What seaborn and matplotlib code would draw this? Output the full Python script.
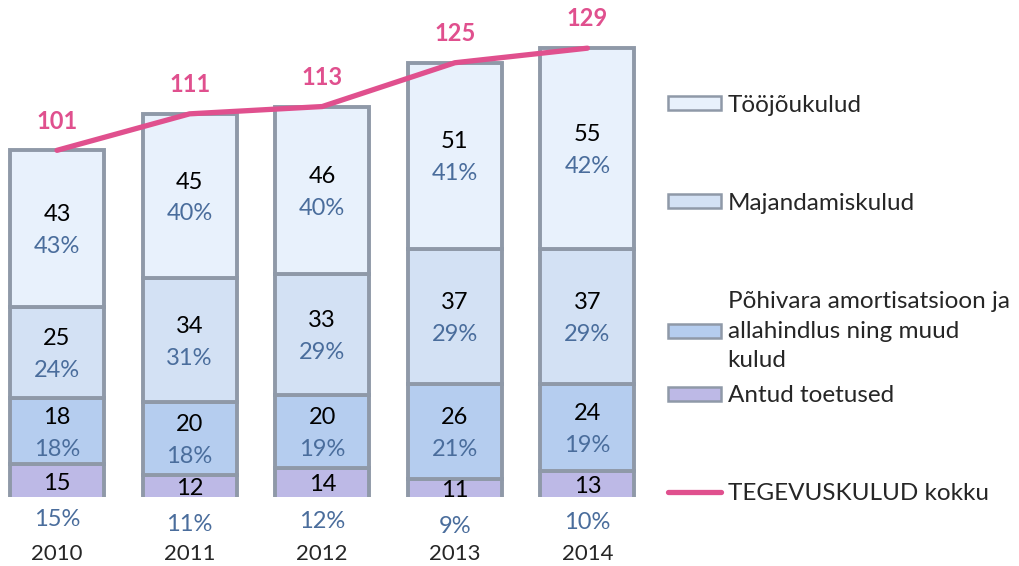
import numpy as np
import pandas as pd
import matplotlib.pyplot as plt
import seaborn as sns
from matplotlib.patches import Patch
from matplotlib.lines import Line2D

sns.set_style("white")
plt.rcParams['font.family'] = ['Lato', 'DejaVu Sans']

# %% andmed
aastad = ["2010", "2011", "2012", "2013", "2014"]
antud_toetused = [15, 12, 14, 11, 13]
pohivara = [18, 20, 20, 26, 24]
majandamiskulud = [25, 34, 33, 37, 37]
toojoukulud = [43, 45, 46, 51, 55]
kokku = [101, 111, 113, 125, 129]

pct_toetused = ["15%", "11%", "12%", "9%", "10%"]
pct_pohivara = ["18%", "18%", "19%", "21%", "19%"]
pct_majandamis = ["24%", "31%", "29%", "29%", "29%"]
pct_toojou = ["43%", "40%", "40%", "41%", "42%"]

nimed = ["Antud toetused",
         "Põhivara amortisatsioon ja\nallahindlus ning muud\nkulud",
         "Majandamiskulud", "Tööjõukulud"]
varvid = ["#bdb9e6", "#b5cdef", "#d3e1f4", "#e8f1fc"]
joone_varv = "#e0508e"
pct_varv = "#4a6d9c"
serv = "#8f99a8"

seeriad = [antud_toetused, pohivara, majandamiskulud, toojoukulud]
protsendid = [pct_toetused, pct_pohivara, pct_majandamis, pct_toojou]

# %% joonis
fig = plt.figure(figsize=(10.19, 5.66), dpi=100)
ax = fig.add_axes([0.0, 0.122, 0.635, 0.878])

pohi = np.zeros(len(aastad))
for n, (vals, pcts, nimi, varv) in enumerate(zip(seeriad, protsendid, nimed, varvid)):
    df = pd.DataFrame({"aasta": aastad, "vaartus": vals})
    sns.barplot(data=df, x="aasta", y="vaartus", bottom=pohi, color=varv,
                saturation=1, width=0.71, edgecolor=serv, linewidth=2.8,
                ax=ax)
    # alumise seeria sildid on nihutatud allapoole
    dy_nr, dy_pct = (6, -20) if n == 0 else (10, -13)
    for i, (v, p) in enumerate(zip(vals, pcts)):
        kesk = pohi[i] + v / 2
        ax.annotate(str(v), (i, kesk), xytext=(0, dy_nr), textcoords="offset points",
                    ha="center", va="center", fontsize=17, color="black",
                    annotation_clip=False)
        ax.annotate(p, (i, kesk), xytext=(0, dy_pct), textcoords="offset points",
                    ha="center", va="center", fontsize=17, color=pct_varv,
                    annotation_clip=False)
    pohi = pohi + np.array(vals)

sns.lineplot(x=np.arange(len(aastad)), y=kokku, color=joone_varv, linewidth=3.8,
             ax=ax)
for i, k in enumerate(kokku):
    ax.annotate(str(k), (i, k), xytext=(0, 21), textcoords="offset points",
                ha="center", va="center", fontsize=17, fontweight="bold",
                color=joone_varv, annotation_clip=False)

ax.set_xlim(-0.43, 4.45)
ax.set_ylim(6, 142.2)
ax.set_xlabel("")
ax.set_ylabel("")
ax.set_yticks([])
ax.set_xticks(range(len(aastad)))
ax.set_xticklabels(aastad, fontsize=16)
ax.tick_params(axis="x", length=0, pad=34)
sns.despine(ax=ax, left=True, bottom=True)

# %% legend
kirjed = [
    (Patch(facecolor=varvid[3], edgecolor=serv, linewidth=1.8), "Tööjõukulud", 105),
    (Patch(facecolor=varvid[2], edgecolor=serv, linewidth=1.8), "Majandamiskulud", 203),
    (Patch(facecolor=varvid[1], edgecolor=serv, linewidth=1.8), nimed[1], 331),
    (Patch(facecolor=varvid[0], edgecolor=serv, linewidth=1.8), "Antud toetused", 396),
    (Line2D([], [], color=joone_varv, linewidth=3.8), "TEGEVUSKULUD kokku", 493),
]
for h, tekst, y_px in kirjed:
    leg = fig.legend(handles=[h], labels=[tekst], loc="center left",
                     bbox_to_anchor=(668 / 1019, 1 - y_px / 566), frameon=False,
                     fontsize=17.5, handlelength=2.2, handleheight=0.55,
                     handletextpad=0.25, borderpad=0, borderaxespad=0)
    for t in leg.get_texts():
        t.set_linespacing(1.5)

fig.savefig("out.png", dpi=100)
